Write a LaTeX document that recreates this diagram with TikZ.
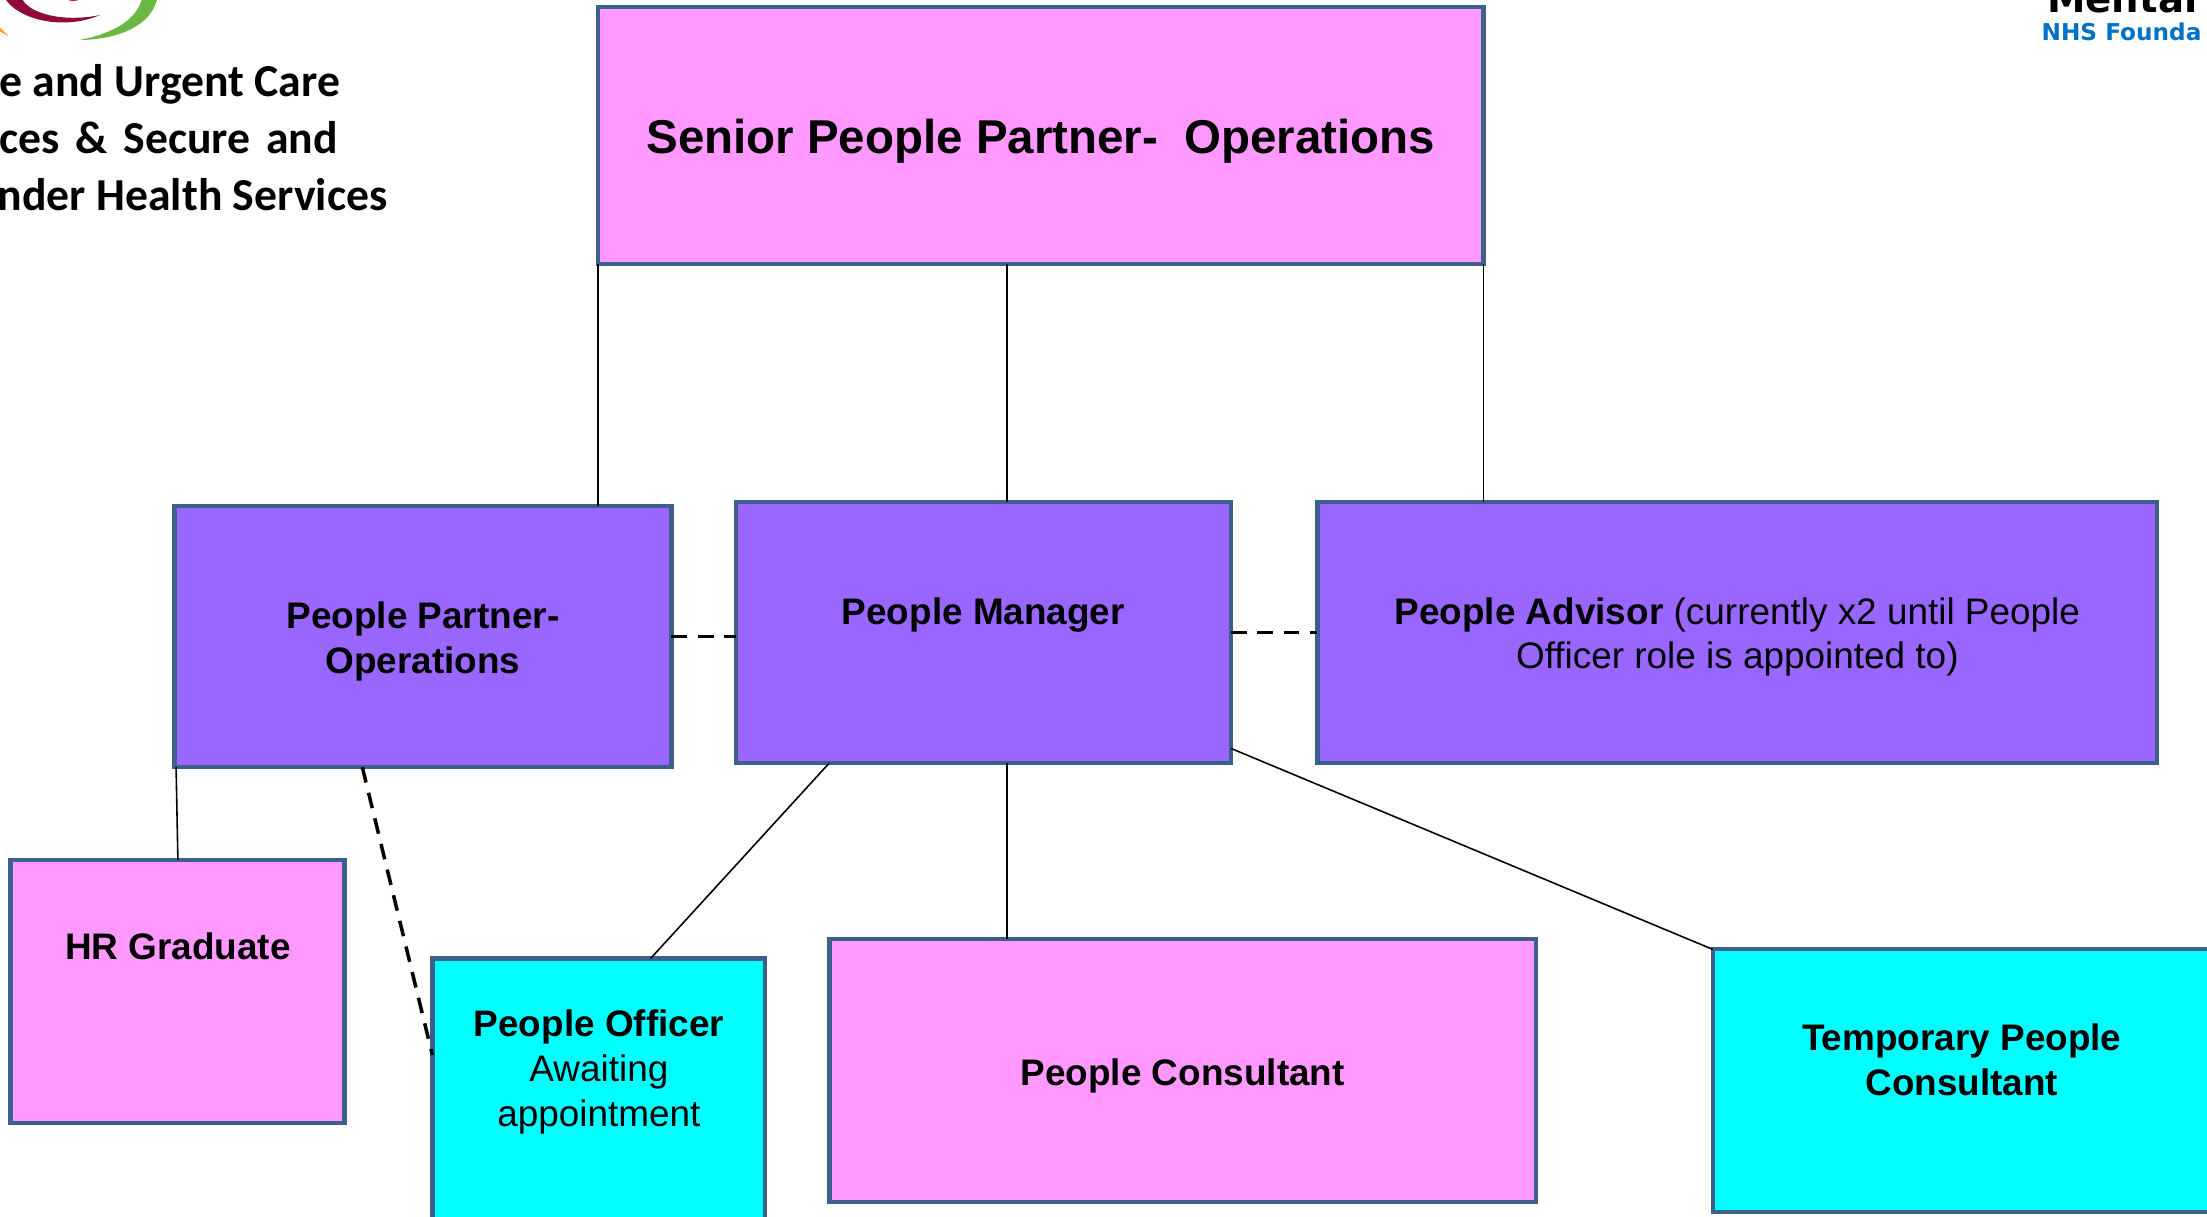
\documentclass[tikz,border=0pt]{standalone}
\usepackage{fontspec}
\setmainfont{Liberation Sans}
\newfontfamily\hdrfont{Carlito}
\newfontfamily\nhsfont{DejaVu Sans}
\usetikzlibrary{fit}
\definecolor{pinkbox}{HTML}{FF99FF}
\definecolor{purplebox}{HTML}{9966FF}
\definecolor{cyanbox}{HTML}{00FFFF}
\definecolor{boxline}{HTML}{3C5F8C}
\definecolor{nhsblue}{HTML}{0072C6}
\definecolor{logomaroon}{HTML}{8C0A3C}
\definecolor{logogreen}{HTML}{6AB944}
\definecolor{logomagenta}{HTML}{C4168C}
\definecolor{logoorange}{HTML}{F5A623}
\begin{document}
\begin{tikzpicture}[x=0.014075cm,y=-0.014075cm,
  bx/.style={draw=boxline,line width=1.2pt,inner sep=0pt,outer sep=0pt},
  txt/.style={inner sep=0pt,anchor=base,font=\fontsize{10.5}{12.8}\selectfont},
  btxt/.style={txt,font=\fontsize{10.5}{12.8}\selectfont\bfseries},
  hdr/.style={inner sep=0pt,anchor=base west,font=\hdrfont\bfseries\fontsize{13}{16}\selectfont},
  conn/.style={line width=0.45pt},
  dsh/.style={line width=1pt,dash pattern=on 4.5pt off 3pt}]
\useasboundingbox (0,0) rectangle (1568,864);

% logo fragments (top left)
\fill[logomaroon] (3,-2) .. controls (12,14) and (45,22) .. (71,10.7) .. controls (45,16) and (20,10) .. (15,-2) -- cycle;
\fill[logogreen] (112,-2) .. controls (108,18) and (85,28) .. (56,28.5) .. controls (80,24) and (98,14) .. (101,-2) -- cycle;
\fill[logomagenta] (47,-1) .. controls (50,1.5) and (54,1.5) .. (57,-1) -- cycle;
\fill[logoorange] (-1,18.5) -- (6,25.5) -- (-1,22) -- cycle;

% header text (top left)
\node[hdr] (h1) at (-1,68.7) {e and Urgent Care};
\node[hdr] (h2) at (-1,109.4) {\spaceskip=4.5pt ces \& Secure and};
\node[hdr] (h3) at (-2,149.7) {nder Health Services};

% logo text (top right)
\node[inner sep=0pt,anchor=base west,font=\nhsfont\bfseries\fontsize{11}{13}\selectfont] (mental) at (1454,9) {Mental};
\node[inner sep=0pt,anchor=base west,text=nhsblue,font=\nhsfont\bfseries\fontsize{6.6}{8}\selectfont] (nhs) at (1450,28.5) {NHS Founda};

% boxes
\node[bx,fill=pinkbox,fit={(425,5) (1054,187.5)}] (top) {};
\node[bx,fill=purplebox,fit={(124,359.5) (477,545)}] (pp) {};
\node[bx,fill=purplebox,fit={(522.8,356.4) (874.5,542.3)}] (pm) {};
\node[bx,fill=purplebox,fit={(936,356.4) (1532.5,542.3)}] (pa) {};
\node[bx,fill=pinkbox,fit={(7.5,611) (244.7,797.6)}] (hr) {};
\node[bx,fill=cyanbox,fit={(307.2,681) (543.7,869)}] (po) {};
\node[bx,fill=pinkbox,fit={(589.4,667.4) (1091.2,853.8)}] (pc) {};
\node[bx,fill=cyanbox,fit={(1216.8,674.5) (1571,861)}] (tpc) {};

% texts
\node[txt,font=\fontsize{13.5}{16}\selectfont\bfseries] (ttop) at (739.4,109.4) {Senior People Partner-~ Operations};
\node[btxt] (tpp1) at (300.5,446.4) {People Partner-};
\node[btxt] (tpp2) at (300.5,478.4) {Operations};
\node[btxt] (tpm) at (698.6,443.6) {People Manager};
\node[txt] (tpa1) at (1234.3,443.4) {\textbf{People Advisor} (currently x2 until People};
\node[txt] (tpa2) at (1234.3,474.8) {Officer role is appointed to)};
\node[btxt] (thr) at (126.4,682) {HR Graduate};
\node[btxt] (tpo1) at (425.5,736.5) {People Officer};
\node[txt] (tpo2) at (425.5,768.5) {Awaiting};
\node[txt] (tpo3) at (425.5,800.5) {appointment};
\node[btxt] (tpc1) at (840.3,770.9) {People Consultant};
\node[btxt] (ttpc1) at (1393.8,746) {Temporary People};
\node[btxt] (ttpc2) at (1393.8,778) {Consultant};

% connector helper coordinates
\coordinate (mx) at (715.4,0);
\coordinate (hx1) at (125.1,0);
\coordinate (hx2) at (126.4,0);
\coordinate (dpx) at (257.4,0);
\coordinate (dpy) at (0,749.6);
\coordinate (ox1) at (589,0);
\coordinate (ox2) at (462.2,0);
\coordinate (ty1) at (0,531.7);
\coordinate (dy1) at (0,452.3);
\coordinate (dy2) at (0,449.5);

% connectors
\draw[conn] (top.south west) -- (top.south west |- pp.north);
\draw[conn] (top.south -| mx) -- (pm.north -| mx);
\draw[conn] (top.south east) -- (top.south east |- pa.north);
\draw[conn] (pm.south -| mx) -- (pc.north -| mx);
\draw[conn] (pp.south -| hx1) -- (hr.north -| hx2);
\draw[conn] (pm.south -| ox1) -- (po.north -| ox2);
\draw[conn] (pm.east |- ty1) -- (tpc.north west);
\draw[dsh] (pp.south -| dpx) -- (po.west |- dpy);
\draw[dsh] (pp.east |- dy1) -- (pm.west |- dy1);
\draw[dsh] (pm.east |- dy2) -- (pa.west |- dy2);
\end{tikzpicture}
\end{document}
